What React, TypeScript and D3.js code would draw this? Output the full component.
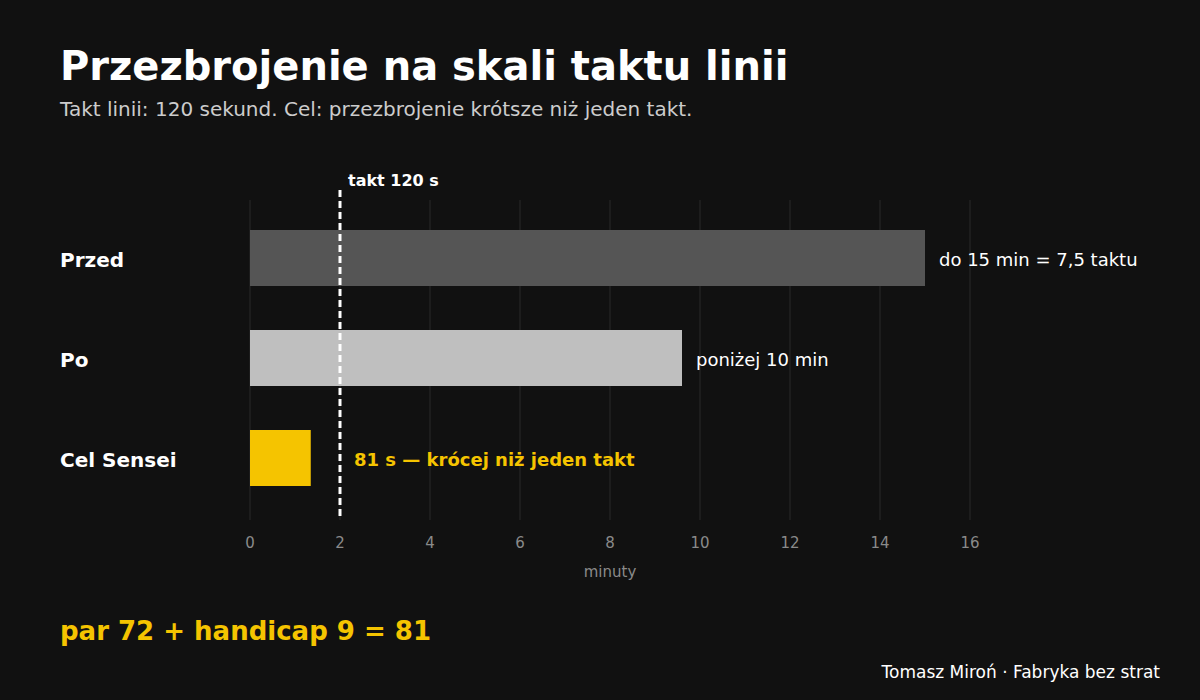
import React from "react";
import * as d3 from "d3";

const categories = ["Przed", "Po", "Cel Sensei"];
const minutes = [15, 9.6, 1.35];
const valueLabels = ["do 15 min = 7,5 taktu", "poniżej 10 min", "81 s — krócej niż jeden takt"];
const barColors = ["#555555", "#bfbfbf", "#f5c400"];
const labelColors = ["#ffffff", "#ffffff", "#f5c400"];
const ticks = [0, 2, 4, 6, 8, 10, 12, 14, 16];
const taktMinutes = 2;

const W = 1200;
const H = 700;
const FONT = "'DejaVu Sans', sans-serif";

export default function App() {
  const x = d3.scaleLinear().domain([0, 16]).range([250, 970]);
  const y = d3.scaleBand<string>().domain(categories).range([208, 508]).paddingInner(0.44).paddingOuter(0.22);
  const band = y.bandwidth();
  return (
    <div style={{ position: "fixed", left: 0, top: 0 }}>
      <svg width={W} height={H} style={{ display: "block", background: "#111111" }}>
        <rect x={0} y={0} width={W} height={H} fill="#111111" />
        <text x={60} y={80} fill="#ffffff" fontFamily={FONT} fontWeight="bold" fontSize={40}>
          Przezbrojenie na skali taktu linii
        </text>
        <text x={60} y={116} fill="#cccccc" fontFamily={FONT} fontSize={20}>
          Takt linii: 120 sekund. Cel: przezbrojenie krótsze niż jeden takt.
        </text>
        {ticks.map((t) => (
          <line key={"g" + t} x1={x(t)} x2={x(t)} y1={200} y2={520} stroke="#222222" strokeWidth={1.5} />
        ))}
        {categories.map((c, i) => {
          const by = y(c)!;
          const end = x(minutes[i]);
          const lx = i === 2 ? x(taktMinutes) + 14 : end + 14;
          return (
            <g key={c}>
              <rect x={x(0)} y={by} width={end - x(0)} height={band} fill={barColors[i]} />
              <text x={60} y={by + band / 2} dy="0.45em" fill="#ffffff" fontFamily={FONT} fontWeight="bold" fontSize={20}>
                {c}
              </text>
              <text
                x={lx}
                y={by + band / 2}
                dy="0.42em"
                fill={labelColors[i]}
                fontFamily={FONT}
                fontWeight={i === 2 ? "bold" : "normal"}
                fontSize={18}
              >
                {valueLabels[i]}
              </text>
            </g>
          );
        })}
        <line
          x1={x(taktMinutes)}
          x2={x(taktMinutes)}
          y1={190}
          y2={520}
          stroke="#ffffff"
          strokeWidth={3}
          strokeDasharray="7,4"
        />
        <text x={x(taktMinutes) + 8} y={186} fill="#ffffff" fontFamily={FONT} fontWeight="bold" fontSize={16}>
          takt 120 s
        </text>
        {ticks.map((t) => (
          <text key={"t" + t} x={x(t)} y={548} textAnchor="middle" fill="#8a8a8a" fontFamily={FONT} fontSize={15}>
            {t}
          </text>
        ))}
        <text x={(x(0) + x(16)) / 2} y={577} textAnchor="middle" fill="#8a8a8a" fontFamily={FONT} fontSize={15}>
          minuty
        </text>
        <text x={60} y={640} fill="#f5c400" fontFamily={FONT} fontWeight="bold" fontSize={26}>
          par 72 + handicap 9 = 81
        </text>
        <text x={1160} y={678} textAnchor="end" fill="#ffffff" fontFamily={FONT} fontSize={17}>
          Tomasz Miroń · Fabryka bez strat
        </text>
      </svg>
    </div>
  );
}
